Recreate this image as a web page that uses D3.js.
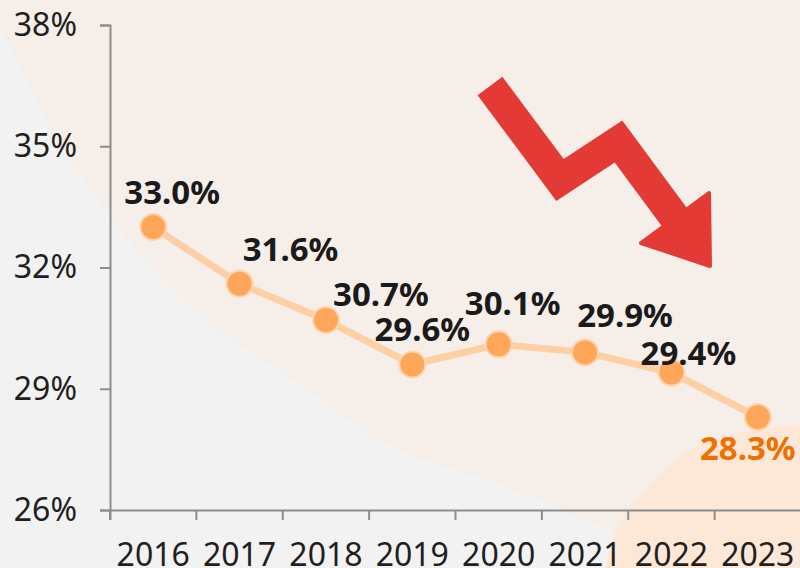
<!DOCTYPE html>
<html>
<head>
<meta charset="utf-8">
<script src="https://cdn.jsdelivr.net/npm/d3@7"></script>
<style>
    body { margin: 0; background: #f2f2f2; }
    #chart-area { width: 800px; height: 568px; }
    text { font-family: "Noto Sans", "Open Sans", sans-serif; }
</style>
</head>
<body>
<div id="chart-area"></div>
<script>

// data
let years = ["2016", "2017", "2018", "2019", "2020", "2021", "2022", "2023"];
let shareValues = [33.0, 31.6, 30.7, 29.6, 30.1, 29.9, 29.4, 28.3];
let yTicks = [26, 29, 32, 35, 38];

// hand placed label nudges (dx, dy from the point)
let labelNudge = [[19, -23], [51, -23], [55, -14], [10, -24], [14, -29], [40, -25], [17, -8], [-10, 43]];


class shareLineVis {
    constructor(parentElement, years, values){
        this.parentElement = parentElement;
        this.years = years;
        this.values = values;
        this.initVis();
    }

    initVis(){
        let vis = this;

        vis.margin = {top: 25, right: 0, bottom: 58, left: 110};
        vis.totalWidth = 800;
        vis.totalHeight = 568;
        vis.width = vis.totalWidth - vis.margin.left - vis.margin.right;
        vis.height = vis.totalHeight - vis.margin.top - vis.margin.bottom;

        vis.root = d3.select("#" + vis.parentElement).append("svg")
            .attr("width", vis.totalWidth)
            .attr("height", vis.totalHeight);

        vis.drawBackground();

        vis.svg = vis.root.append("g")
            .attr("transform", `translate(${vis.margin.left}, ${vis.margin.top})`);

        // scales
        vis.x = d3.scaleBand()
            .domain(vis.years)
            .range([0, 691])
            .padding(0);

        vis.y = d3.scaleLinear()
            .domain([26, 38])
            .range([vis.height, 0]);

        // y axis
        vis.yAxis = d3.axisLeft(vis.y)
            .tickValues(yTicks)
            .tickSize(10)
            .tickPadding(23)
            .tickFormat(d => d + "%");

        vis.svg.append("g")
            .attr("class", "axis y-axis")
            .call(vis.yAxis);

        // x axis, ticks sit on the band edges
        vis.xAxis = d3.axisBottom(vis.x)
            .tickSize(10)
            .tickPadding(23);

        vis.svg.append("g")
            .attr("class", "axis x-axis")
            .attr("transform", `translate(0, ${vis.height})`)
            .call(vis.xAxis);

        vis.svg.selectAll(".x-axis .tick line")
            .attr("x1", -vis.x.bandwidth() / 2)
            .attr("x2", -vis.x.bandwidth() / 2);

        vis.svg.selectAll(".axis path, .axis line")
            .attr("stroke", "#8c8c8c")
            .attr("stroke-width", 2);

        vis.svg.selectAll(".axis text")
            .attr("font-size", 32)
            .attr("fill", "#1f1f1f");

        vis.drawArrow();

        // the line
        vis.data = vis.years.map((d, i) => ({year: d, value: vis.values[i], nudge: labelNudge[i]}));

        let line = d3.line()
            .x(d => vis.x(d.year) + vis.x.bandwidth() / 2)
            .y(d => vis.y(d.value));

        vis.svg.append("path")
            .datum(vis.data)
            .attr("d", line)
            .attr("fill", "none")
            .attr("stroke", "#fdcfa4")
            .attr("stroke-width", 7);

        vis.svg.selectAll(".point")
            .data(vis.data)
            .enter()
            .append("circle")
            .attr("class", "point")
            .attr("cx", d => vis.x(d.year) + vis.x.bandwidth() / 2)
            .attr("cy", d => vis.y(d.value))
            .attr("r", 13)
            .attr("fill", "#fea65a")
            .attr("stroke", "#ffd3ac")
            .attr("stroke-width", 2);

        vis.svg.selectAll(".point-label")
            .data(vis.data)
            .enter()
            .append("text")
            .attr("class", "point-label")
            .attr("x", d => vis.x(d.year) + vis.x.bandwidth() / 2 + d.nudge[0])
            .attr("y", d => vis.y(d.value) + d.nudge[1])
            .attr("text-anchor", "middle")
            .attr("font-size", 33)
            .attr("font-weight", "bold")
            .attr("fill", (d, i) => i === vis.data.length - 1 ? "#ef6f00" : "#1a1a1a")
            .text(d => d.value.toFixed(1) + "%");
    }

    drawBackground(){
        let vis = this;

        vis.root.append("rect")
            .attr("width", vis.totalWidth)
            .attr("height", vis.totalHeight)
            .attr("fill", "#f2f2f2");

        // big soft peach sweep
        let edge = [[0, 25], [70, 160], [183, 300], [300, 385], [400, 450], [500, 485], [617, 534], [690, 568]];
        let curve = d3.line().curve(d3.curveCatmullRom)(edge);
        vis.root.append("path")
            .attr("d", curve + " L800,568 L800,0 L0,0 Z")
            .attr("fill", "#f6eee8");

        // brighter blob bottom right
        let blob = [[605, 568], [617, 530], [640, 497], [687, 452], [740, 433], [800, 425]];
        let blobPath = d3.line().curve(d3.curveCatmullRom)(blob);
        vis.root.append("path")
            .attr("d", blobPath + " L800,568 Z")
            .attr("fill", "#fde8d7");
    }

    drawArrow(){
        let vis = this;
        // decorative falling arrow, in page coordinates
        let g = vis.root.append("g").attr("class", "arrow");

        g.append("path")
            .attr("d", d3.line()([[490, 86], [560, 180], [618.5, 141.5], [678, 222]]))
            .attr("fill", "none")
            .attr("stroke", "#e43a36")
            .attr("stroke-width", 31)
            .attr("stroke-linejoin", "miter");

        g.append("path")
            .attr("d", d3.line()([[709, 193], [710, 266], [641, 243]]) + "Z")
            .attr("fill", "#e43a36")
            .attr("stroke", "#e43a36")
            .attr("stroke-width", 4)
            .attr("stroke-linejoin", "round");
    }
}

let vis = new shareLineVis("chart-area", years, shareValues);

</script>
</body>
</html>
